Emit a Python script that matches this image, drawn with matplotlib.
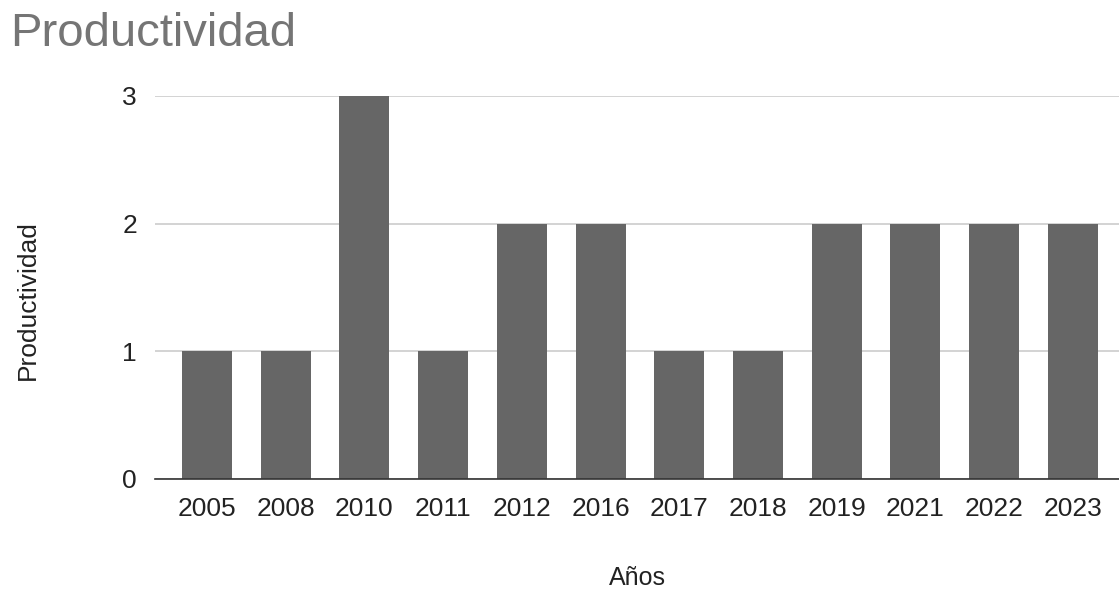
import matplotlib.pyplot as plt

years = ["2005", "2008", "2010", "2011", "2012", "2016",
         "2017", "2018", "2019", "2021", "2022", "2023"]
productividad = [1, 1, 3, 1, 2, 2, 1, 1, 2, 2, 2, 2]

plt.rcParams['font.family'] = ['Liberation Sans', 'DejaVu Sans']

fig = plt.figure(figsize=(11.19, 5.92), dpi=100)
ax = fig.add_axes([0.1385, 0.191, 0.8615, 0.647])

x = range(len(years))
ax.bar(x, productividad, width=0.635, color="#666666", zorder=3)

ax.set_xlim(-0.66, len(years) - 1 + 0.585)
ax.set_ylim(0, 3)
ax.set_yticks([0, 1, 2, 3])
ax.set_xticks(list(x))
ax.set_xticklabels(years)

ax.yaxis.grid(True, color="#cccccc", linewidth=1.2, zorder=0)
for s in ["top", "right", "left"]:
    ax.spines[s].set_visible(False)
ax.spines["bottom"].set_color("#333333")
ax.spines["bottom"].set_linewidth(1.2)
ax.spines["bottom"].set_zorder(4)

ax.tick_params(axis="both", length=0, labelsize=19, colors="#222222")
ax.tick_params(axis="x", pad=13)
ax.tick_params(axis="y", pad=13)

# axis titles placed directly in figure coordinates
fig.text(637 / 1119, 1 - 578 / 592, "Años", fontsize=18, color="#222222",
         ha="center", va="center")
fig.text(28 / 1119, 1 - 300 / 592, "Productividad", fontsize=19,
         color="#222222", ha="center", va="center", rotation=90)

fig.text(0.009, 1 - 34 / 592, "Productividad", fontsize=34, color="#757575",
         ha="left", va="center")

fig.savefig("out.png", dpi=100)
